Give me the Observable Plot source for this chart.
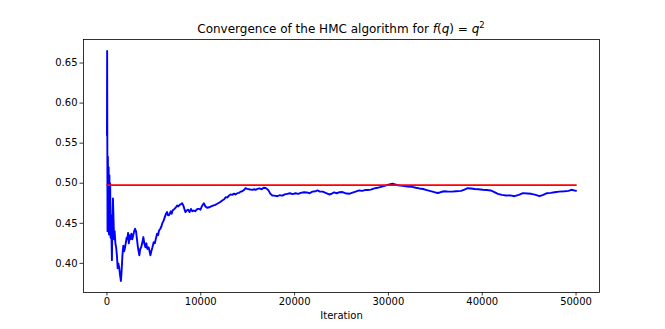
<!DOCTYPE html>
<html>
<head>
<meta charset="utf-8">
<script src="https://cdn.jsdelivr.net/npm/d3@7"></script>
<script src="https://cdn.jsdelivr.net/npm/@observablehq/plot@0.6"></script>
<style>
  html, body { margin: 0; padding: 0; background: #fff; }
  #chart { width: 665px; height: 329px; }
</style>
</head>
<body>
<div id="chart"></div>
<script>
// Iteration numbers (x) and running estimate (y)
const iterations = [0,20,60,100,140,180,220,260,300,340,390,430,470,530,580,640,700,760,820,900,980,1060,1140,1210,1300,1400,1490,1560,1650,1740,1820,1900,2000,2100,2170,2250,2330,2420,2500,2600,2700,2800,2900,2990,3100,3200,3300,3450,3550,3650,3750,3880,3980,4100,4200,4300,4450,4630,4750,4850,4980,5100,5200,5340,5450,5550,5690,5800,5900,6050,6200,6300,6410,6500,6600,6700,6800,6900,7000,7200,7350,7480,7600,7750,7900,8010,8150,8250,8370,8500,8650,8800,8950,9100,9250,9400,9550,9700,9850,9970,10100,10320,10500,10680,10900,11100,11300,11550,11750,12000,12290,12500,12650,12820,13000,13170,13350,13550,13700,13890,14100,14250,14420,14600,14780,14950,15150,15300,15500,15700,15840,16050,16250,16500,16700,16910,17100,17250,17400,17630,17850,18160,18400,18700,18950,19230,19500,19800,20100,20400,20650,21000,21300,21600,21900,22250,22440,22700,23000,23300,23680,23900,24200,24500,24800,25100,25400,25810,26100,26500,26880,27200,27500,27800,28130,28500,28840,29200,29600,29910,30200,30450,30700,31000,31300,31700,32050,32500,32940,33300,33700,34000,34400,34700,35000,35300,35600,35960,36400,36800,37200,37750,38100,38460,38800,39200,39600,40060,40500,40900,41300,41670,42100,42550,43000,43440,43900,44340,44800,45220,45600,46110,46500,46900,47300,47710,48200,48780,49200,49500,50000];
const estimates = [0.560,0.665,0.440,0.533,0.470,0.520,0.436,0.510,0.450,0.500,0.432,0.460,0.440,0.404,0.450,0.481,0.455,0.430,0.440,0.425,0.420,0.410,0.394,0.400,0.395,0.385,0.378,0.390,0.410,0.422,0.415,0.418,0.425,0.432,0.430,0.438,0.425,0.435,0.430,0.437,0.430,0.435,0.440,0.4432,0.440,0.430,0.420,0.410,0.418,0.420,0.425,0.4328,0.425,0.420,0.425,0.418,0.420,0.410,0.416,0.420,0.4265,0.425,0.430,0.437,0.435,0.441,0.4432,0.446,0.450,0.4536,0.459,0.462,0.464,0.460,0.460,0.462,0.465,0.462,0.466,0.468,0.470,0.4722,0.471,0.473,0.474,0.4751,0.472,0.468,0.464,0.466,0.467,0.464,0.468,0.465,0.466,0.465,0.467,0.468,0.468,0.4669,0.471,0.4751,0.471,0.4694,0.470,0.471,0.472,0.473,0.4744,0.476,0.4785,0.480,0.4826,0.482,0.4845,0.486,0.4855,0.487,0.486,0.4876,0.488,0.4895,0.490,0.4915,0.4938,0.493,0.4925,0.492,0.4918,0.4925,0.4918,0.493,0.4935,0.4925,0.4943,0.494,0.4925,0.4905,0.487,0.4847,0.4845,0.4838,0.485,0.4845,0.486,0.4868,0.4875,0.4865,0.4875,0.4868,0.488,0.4888,0.4885,0.4875,0.4895,0.490,0.491,0.4895,0.4895,0.488,0.486,0.4865,0.4885,0.4875,0.4888,0.489,0.4875,0.4868,0.488,0.4895,0.491,0.4905,0.4915,0.4915,0.492,0.4935,0.4943,0.4955,0.4968,0.498,0.4988,0.4993,0.4985,0.4975,0.497,0.4965,0.4959,0.4955,0.4943,0.4935,0.4928,0.4918,0.4905,0.4895,0.4885,0.4878,0.489,0.490,0.4895,0.4895,0.490,0.4905,0.492,0.4938,0.4935,0.4928,0.4925,0.4918,0.4915,0.491,0.489,0.4868,0.4855,0.4847,0.4848,0.4838,0.4855,0.4876,0.4872,0.4868,0.4858,0.4838,0.4855,0.4875,0.488,0.4888,0.4895,0.490,0.4905,0.4918,0.4905];
// Reference (true) value line
const refValue = 0.4977;
const refStart = 0;
const refEnd = 50000;
// Ticks
const xTicks = [0, 10000, 20000, 30000, 40000, 50000];
const yTicks = [0.40, 0.45, 0.50, 0.55, 0.60, 0.65];
const titleText = "Convergence of the HMC algorithm for ";
const xLabel = "Iteration";

const series = iterations.map((it, i) => ({it, v: estimates[i]}));
const refLine = [{it: refStart, v: refValue}, {it: refEnd, v: refValue}];

const xmin = d3.min(iterations), xmax = d3.max(iterations);
const xpad = (xmax - xmin) * 0.05;
const ymin = d3.min(estimates), ymax = d3.max(estimates);
const ypad = (ymax - ymin) * 0.05;

const chart = Plot.plot({
  width: 665,
  height: 329,
  marginLeft: 83,
  marginRight: 66,
  marginTop: 39,
  marginBottom: 37,
  style: {fontFamily: "DejaVu Sans", fontSize: "10px", color: "black", background: "white"},
  x: {domain: [xmin - xpad, xmax + xpad]},
  y: {domain: [ymin - ypad, ymax + ypad]},
  marks: [
    Plot.line(series, {x: "it", y: "v", stroke: "#0000ff", strokeWidth: 1.9}),
    Plot.line(refLine, {x: "it", y: "v", stroke: "#ff0000", strokeWidth: 1.7}),
    Plot.frame({stroke: "black", strokeWidth: 0.8}),
    Plot.axisX({ticks: xTicks, tickFormat: d => String(d), tickSize: 3.5, tickPadding: 2, label: null, stroke: "black", strokeWidth: 0.8, fill: "black"}),
    Plot.axisY({ticks: yTicks, tickFormat: d3.format(".2f"), tickSize: 3.5, tickPadding: 2.5, label: null, stroke: "black", strokeWidth: 0.8, fill: "black"}),
    Plot.text([xLabel], {frameAnchor: "bottom", dy: 26, text: d => d, fill: "black", fontSize: 10})
  ]
});
document.getElementById("chart").appendChild(chart);

// Title with math notation
const svg = d3.select(chart);
const t = svg.append("text")
  .attr("x", (83 + 665 - 66) / 2)
  .attr("y", 33)
  .attr("text-anchor", "middle")
  .attr("fill", "black")
  .style("font-family", "DejaVu Sans")
  .style("font-size", "12px");
t.append("tspan").text(titleText);
t.append("tspan").style("font-style", "italic").text("f");
t.append("tspan").text("(");
t.append("tspan").style("font-style", "italic").text("q");
t.append("tspan").text(") = ");
t.append("tspan").style("font-style", "italic").text("q");
t.append("tspan").attr("dy", -5).style("font-size", "8.5px").text("2");
</script>
</body>
</html>
